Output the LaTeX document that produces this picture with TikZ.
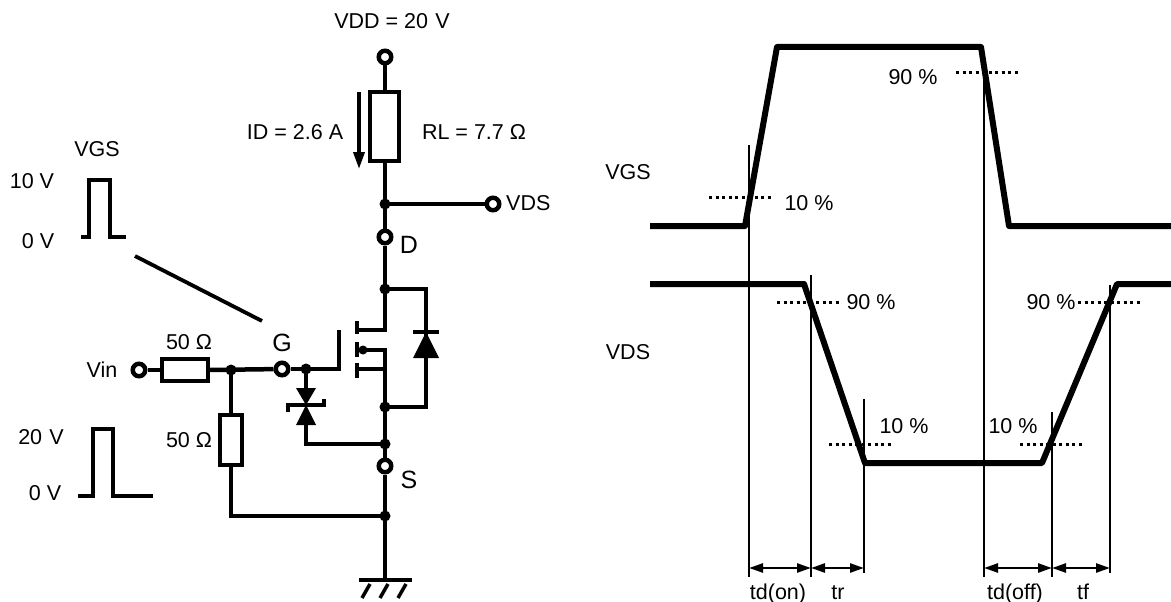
\documentclass[tikz,border=0pt]{standalone}
\usepackage{fontspec}
\setmainfont{Liberation Sans}
\usetikzlibrary{arrows.meta}
\begin{document}
\begin{tikzpicture}[x=1pt,y=-1pt,
  every node/.style={font=\fontsize{21.5}{25}\selectfont},
  wire/.style={line width=4.5pt},
  thinl/.style={line width=2.2pt},
  wave/.style={line width=6pt,line join=round},
  dotl/.style={line width=3pt,dash pattern=on 3pt off 3.5pt},
  term/.style={circle,draw,line width=4.5pt,minimum size=12.5pt,inner sep=0pt,fill=white},
  jdot/.style={circle,fill,minimum size=11pt,inner sep=0pt},
  res/.style={draw,line width=4pt,fill=white},
  lbl/.style={inner sep=0pt,text height=15pt,text depth=0pt},
  pin/.style={inner sep=0pt,text height=18pt,text depth=0pt,font=\fontsize{25}{29}\selectfont},
  dimarr/.style={line width=2.5pt,{Triangle[length=14pt,width=9pt]}-{Triangle[length=14pt,width=9pt]}}]
\fill[white] (0,0) rectangle (1171,602);
\useasboundingbox (0,0) rectangle (1171,602);

% ---------- circuit coordinates ----------
\coordinate (rlt) at (385,92);
\coordinate (rlb) at (385,161);
\coordinate (dr) at (385,289);
\coordinate (drb) at (385,330);
\coordinate (bd) at (385,350);
\coordinate (srcj) at (385,369);
\coordinate (bdl) at (385,407);
\coordinate (zj) at (385,444);
\coordinate (gj) at (385,516);
\coordinate (gnd) at (385,580);
\coordinate (gtop) at (339,330);
\coordinate (gbot) at (339,369);

% terminals
\node[term] (vdd) at (385,57) {};
\node[term] (vdsT) at (493,204) {};
\node[term] (dT) at (385,237) {};
\node[term] (sT) at (385,466) {};
\node[term] (gT) at (282,369) {};
\node[term] (vinT) at (139,370) {};

\draw[wire] (vdd) -- (rlt);
\draw[wire] (rlb) -- (dT);
\draw[wire] (dT) -- (dr) -- (drb) -- (359,330);
\draw[wire] (359,350) -- (bd) -- (bdl) -- (zj) -- (sT) -- (gj) -- (gnd);
\draw[wire] (359,369) -- (srcj);
\draw[wire] (385,204) -- (vdsT);
\draw[wire] (dr) -- (426,289) -- (426,407) -- (bdl);

% load resistor
\draw[res] (370,92) rectangle (399,161);
\node[lbl] (ldd) at (392,21) {VDD = 20\,\,V};
\node[lbl] (lid) at (295,132) {ID = 2.6 A};
\node[lbl] (lrl) at (474,132) {RL = 7.7 Ω};
\node[lbl,anchor=west] (lvds) at (506,203) {VDS};
\node[pin] (ld) at (409,244) {D};
\node[pin] (ls) at (409,479) {S};
\node[pin] (lg) at (282,342) {G};
\draw[line width=3.5pt,-{Triangle[length=17pt,width=11pt]}] (359,92) -- (359,169);

% MOSFET channel
\draw[line width=4pt] (357,321) -- (357,334);
\draw[line width=4pt] (357,342) -- (357,357);
\draw[line width=4pt] (357,363) -- (357,378);
\fill (363,350) circle (4.5pt);
\draw[wire] (gtop) -- (gbot) -- (gT);

% body diode
\fill (413,358) -- (439,358) -- (426,332) -- cycle;
\draw[line width=3.5pt] (413,332) -- (439,332);

% bidirectional zener gate protection
\draw[wire] (306,369) -- (306,388);
\fill (296,388) -- (316,388) -- (306,405) -- cycle;
\fill (296,425) -- (316,425) -- (306,405) -- cycle;
\draw[line width=3.5pt] (288,412) -- (288,405) -- (324,405) -- (324,399);
\draw[wire] (306,425) -- (306,444) -- (zj);

% gate resistors
\draw[wire] (vinT) -- (162,370);
\draw[wire] (208,370) -- (gT);
\draw[res] (162,359) rectangle (208,381);
\draw[wire] (231,370) -- (231,415);
\draw[res] (220,415) rectangle (242,465);
\draw[wire] (231,465) -- (231,516) -- (gj);
\node[lbl] (l50a) at (189,342) {50 Ω};
\node[lbl] (l50b) at (189,440) {50 Ω};
\node[lbl] (lvin) at (102,370) {Vin};

% ground
\draw[wire] (359,580) -- (412,580);
\draw[line width=3.5pt] (370,584) -- (362,598);
\draw[line width=3.5pt] (388,584) -- (380,598);
\draw[line width=3.5pt] (406,584) -- (398,598);

% junction dots
\foreach \p in {(385,204),(385,289),(385,407),(385,444),(385,516),(231,370),(306,369)}
  \node[jdot] at \p {};

% pulses
\draw[wire,line join=miter] (81,237) -- (89,237) -- (89,180) -- (110,180) -- (110,237) -- (126,237);
\node[lbl] (lvgs1) at (97,149) {VGS};
\node[lbl] (l10v) at (32,181) {10 V};
\node[lbl] (l0va) at (38,241) {0 V};
\draw[line width=3.8pt] (135,256) -- (262,321);
\draw[wire,line join=miter] (78,496) -- (93,496) -- (93,429) -- (113,429) -- (113,496) -- (153,496);
\node[lbl] (l20v) at (41,437) {20\,\,V};
\node[lbl] (l0vb) at (45,493) {0 V};

% ---------- timing diagram ----------
\node[lbl] (tvgs) at (628,172) {VGS};
\node[lbl] (tvds) at (628,352) {VDS};
\coordinate (g0) at (650,226);
\coordinate (g1) at (745,226);
\coordinate (g2) at (777,47);
\coordinate (g3) at (981,47);
\coordinate (g4) at (1009,226);
\coordinate (g5) at (1171,226);
\draw[wave] (g0) -- (g1) -- (g2) -- (g3) -- (g4) -- (g5);
\coordinate (d0) at (650,284);
\coordinate (d1) at (804,284);
\coordinate (d2) at (865,463);
\coordinate (d3) at (1042,463);
\coordinate (d4) at (1117,284);
\coordinate (d5) at (1171,284);
\draw[wave] (d0) -- (d1) -- (d2) -- (d3) -- (d4) -- (d5);

\draw[thinl] (749,145) -- (749,577);
\draw[thinl] (811,275) -- (811,577);
\draw[thinl] (864,399) -- (864,573);
\draw[thinl] (984,75) -- (984,577);
\draw[thinl] (1052,412) -- (1052,577);
\draw[thinl] (1110,285) -- (1110,573);

\draw[dotl] (709,197) -- (772,197);
\draw[dotl] (956,73) -- (1019,73);
\draw[dotl] (777,302) -- (839,302);
\draw[dotl] (829,444) -- (892,444);
\draw[dotl] (1020,444) -- (1083,444);
\draw[dotl] (1078,302) -- (1140,302);

\node[lbl] (p10a) at (809,203) {10 \%};
\node[lbl] (p90a) at (913,77) {90 \%};
\node[lbl] (p90b) at (871,302) {90 \%};
\node[lbl] (p10b) at (904,426) {10 \%};
\node[lbl] (p10c) at (1013,426) {10 \%};
\node[lbl] (p90c) at (1051,302) {90 \%};

\coordinate (a1) at (749,568);
\coordinate (a2) at (811,568);
\coordinate (a3) at (864,568);
\coordinate (a4) at (984,568);
\coordinate (a5) at (1052,568);
\coordinate (a6) at (1110,568);
\draw[dimarr] (a1) -- (a2);
\draw[dimarr] (a2) -- (a3);
\draw[dimarr] (a4) -- (a5);
\draw[dimarr] (a5) -- (a6);
\node[lbl] (tdon) at (778,592) {td(on)};
\node[lbl] (ttr) at (838,592) {tr};
\node[lbl] (tdoff) at (1015,592) {td(off)};
\node[lbl] (ttf) at (1083,592) {tf};
\end{tikzpicture}
\end{document}
